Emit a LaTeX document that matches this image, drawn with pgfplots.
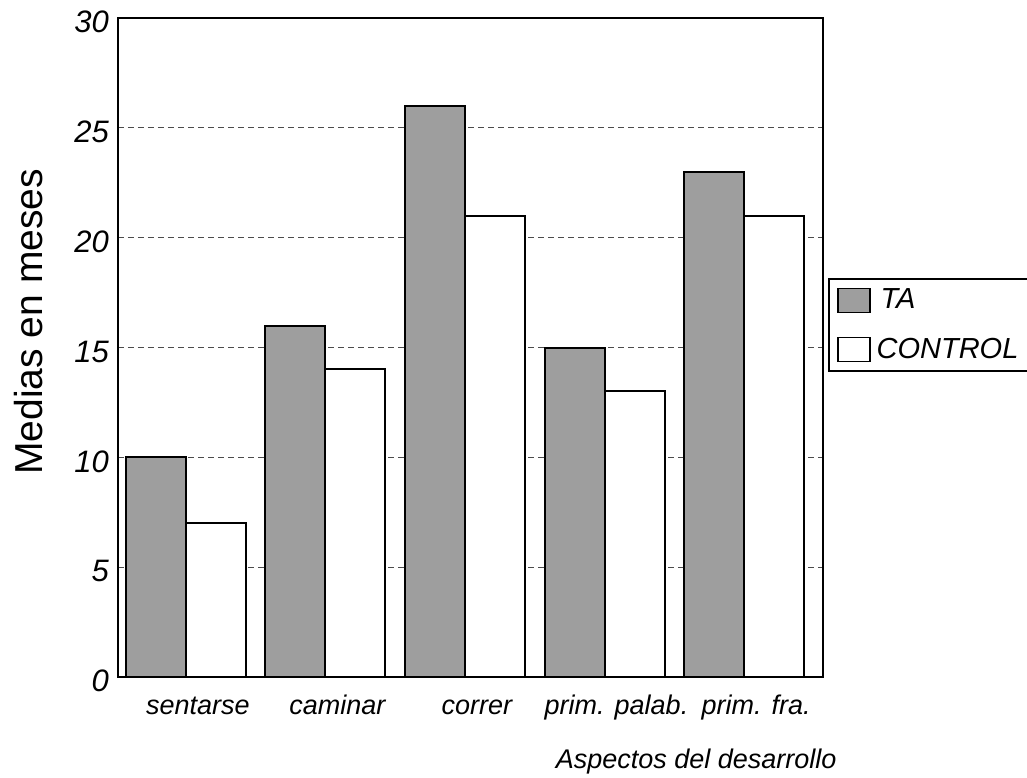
\documentclass[border=0pt]{standalone}
\usepackage{pgfplots}
\pgfplotsset{compat=1.18}
\usepackage{fontspec}
\setmainfont{Liberation Sans}
\begin{document}
\begin{tikzpicture}
\path[use as bounding box] (-59pt,-50pt) rectangle (454.5pt,338.5pt);
\begin{axis}[
  at={(0,0)}, anchor=south west,
  scale only axis, width=352.5pt, height=329.5pt,
  ybar, ybar=0pt, bar width=30pt,
  xmin=-0.487, xmax=4.566, ymin=0, ymax=30,
  xtick={0,1,2,3,4},
  xticklabels={sentarse, caminar, correr, prim. palab., prim. fra.},
  ytick={0,5,10,15,20,25,30},
  major tick length=0pt,
  axis line style={line width=1pt},
  ymajorgrids, grid style={densely dashed, line width=0.5pt, black!70},
  /pgf/number format/assume math mode=true,
  yticklabel style={font=\fontsize{15.5}{18}\selectfont\itshape, xshift=-1pt, yshift=-2pt},
  xticklabel style={font=\fontsize{13.5}{15}\selectfont\itshape, anchor=base, xshift=6pt, yshift=-18.5pt},
  xlabel={\itshape Aspectos del desarrollo},
  xlabel style={font=\fontsize{13.5}{16}\selectfont, at={(axis description cs:0.82,0)}, anchor=base, yshift=-45.5pt},
  ylabel={Medias en meses},
  ylabel style={font=\fontsize{19.5}{22}\selectfont, at={(axis description cs:0,0.539)}, anchor=south, yshift=34pt},
  legend style={at={(axis description cs:1.0071,0.6055)}, anchor=north west, draw=black, line width=1pt,
    font=\fontsize{14.5}{16}\selectfont\itshape, row sep=9pt, inner ysep=3pt, inner xsep=4pt},
  legend cell align=left,
  legend image code/.code={\draw[#1, line width=0.8pt] (0pt,-6pt) rectangle (16pt,6pt);},
]
\addplot[draw=black, line width=1pt, fill=black!38] coordinates {(0,10) (1,16) (2,26) (3,15) (4,23)};
\addplot[draw=black, line width=1pt, fill=white] coordinates {(0,7) (1,14) (2,21) (3,13) (4,21)};
\legend{\hspace*{3pt}TA\hspace*{80pt}\mbox{}, \hspace*{1pt}CONTROL\hspace*{30pt}\mbox{}}
\end{axis}
\end{tikzpicture}
\end{document}
